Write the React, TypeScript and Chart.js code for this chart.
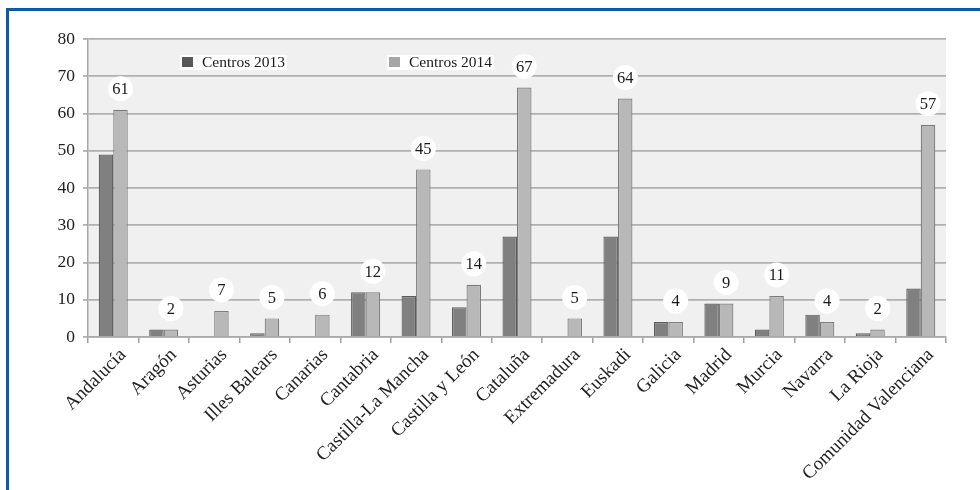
import React, { useEffect, useRef } from 'react';
import { Chart, registerables } from 'chart.js';

Chart.register(...registerables);

const categories = [
  'Andalucía', 'Aragón', 'Asturias', 'Illes Balears', 'Canarias', 'Cantabria',
  'Castilla-La Mancha', 'Castilla y León', 'Cataluña', 'Extremadura', 'Euskadi',
  'Galicia', 'Madrid', 'Murcia', 'Navarra', 'La Rioja', 'Comunidad Valenciana',
];
const centros2013 = [49, 2, 0, 1, 0, 12, 11, 8, 27, 0, 27, 4, 9, 2, 6, 1, 13];
const centros2014 = [61, 2, 7, 5, 6, 12, 45, 14, 67, 5, 64, 4, 9, 11, 4, 2, 57];
const seriesLabels = ['Centros 2013', 'Centros 2014'];
const legendSwatches = ['#595959', '#a6a6a6'];
const yMin = 0;
const yMax = 80;
const yStep = 10;

const SERIF = '"Liberation Serif", "Times New Roman", serif';

const plotBg = {
  id: 'plotBg',
  beforeDraw(chart: any) {
    const { ctx, chartArea } = chart;
    ctx.save();
    ctx.fillStyle = '#f0f0f0';
    ctx.fillRect(chartArea.left, chartArea.top, chartArea.right - chartArea.left, chartArea.bottom - chartArea.top);
    ctx.restore();
  },
};

const bubbleLabels = {
  id: 'bubbleLabels',
  afterDatasetsDraw(chart: any) {
    const { ctx } = chart;
    const meta = chart.getDatasetMeta(1);
    const data = chart.data.datasets[1].data;
    ctx.save();
    ctx.font = `16.5px ${SERIF}`;
    ctx.textAlign = 'center';
    ctx.textBaseline = 'middle';
    meta.data.forEach((bar: any, i: number) => {
      const cx = bar.x;
      const cy = bar.y - 21;
      ctx.beginPath();
      ctx.fillStyle = '#ffffff';
      ctx.arc(cx, cy, 12.5, 0, Math.PI * 2);
      ctx.fill();
      ctx.fillStyle = '#1a1a1a';
      ctx.fillText(String(data[i]), cx, cy + 1);
    });
    ctx.restore();
  },
};

const innerLegend = {
  id: 'innerLegend',
  afterDatasetsDraw(chart: any) {
    const { ctx, chartArea } = chart;
    const offsets = [92, 299];
    ctx.save();
    ctx.font = `15.5px ${SERIF}`;
    ctx.textBaseline = 'middle';
    chart.data.datasets.forEach((ds: any, i: number) => {
      const x = chartArea.left + offsets[i];
      const y = chartArea.top + 23;
      const tw = ctx.measureText(ds.label).width;
      ctx.fillStyle = '#ffffff';
      ctx.fillRect(x, y - 7, 22 + tw + 2, 15);
      ctx.fillStyle = legendSwatches[i];
      ctx.fillRect(x + 2, y - 5, 11, 10);
      ctx.fillStyle = '#1a1a1a';
      ctx.fillText(ds.label, x + 22, y + 1);
    });
    ctx.restore();
  },
};

export default function App() {
  const ref = useRef<HTMLCanvasElement | null>(null);

  useEffect(() => {
    if (!ref.current) return;
    const chart = new Chart(ref.current, {
      type: 'bar',
      data: {
        labels: categories,
        datasets: [
          {
            label: seriesLabels[0],
            data: centros2013,
            backgroundColor: '#808080',
            borderColor: '#5c5c5c',
            borderWidth: 1.2,
            categoryPercentage: 0.575,
            barPercentage: 1,
          },
          {
            label: seriesLabels[1],
            data: centros2014,
            backgroundColor: '#b8b8b8',
            borderColor: '#7c7c7c',
            borderWidth: 1.2,
            categoryPercentage: 0.575,
            barPercentage: 1,
          },
        ],
      },
      options: {
        responsive: false,
        animation: false,
        layout: { padding: { top: 39, right: 34, left: 0, bottom: 0 } },
        plugins: {
          legend: { display: false },
          tooltip: { enabled: false },
        },
        scales: {
          x: {
            grid: {
              display: true,
              drawOnChartArea: false,
              drawTicks: true,
              tickLength: 6,
              color: '#a0a0a0',
              lineWidth: 1.5,
            },
            border: { display: true, color: '#a8a8a8', width: 1.5 },
            ticks: {
              autoSkip: false,
              minRotation: 45,
              maxRotation: 45,
              padding: 1,
              labelOffset: 10,
              color: '#222222',
              font: { family: SERIF, size: 19 },
            },
            afterFit(scale: any) {
              scale.height = 153;
            },
          },
          y: {
            min: yMin,
            max: yMax,
            ticks: {
              stepSize: yStep,
              padding: 8,
              color: '#222222',
              font: { family: SERIF, size: 17.5 },
            },
            grid: {
              color: '#b0b0b0',
              lineWidth: 1.8,
              tickLength: 5,
            },
            border: { display: true, color: '#a8a8a8', width: 1.5 },
            afterFit(scale: any) {
              scale.width = 88;
            },
          },
        },
      },
      plugins: [plotBg, innerLegend, bubbleLabels],
    });
    return () => chart.destroy();
  }, []);

  return (
    <div style={{ position: 'absolute', left: 0, top: 0, width: 980, height: 490, background: '#ffffff', overflow: 'hidden' }}>
      <div
        style={{
          position: 'absolute',
          left: 6,
          top: 8,
          width: 990,
          height: 500,
          borderTop: '3px solid #0e5aa7',
          borderLeft: '3px solid #0e5aa7',
          boxSizing: 'border-box',
        }}
      />
      <canvas
        ref={ref}
        width={980}
        height={490}
        style={{ position: 'absolute', left: 0, top: 0, width: 980, height: 490 }}
      />
    </div>
  );
}
